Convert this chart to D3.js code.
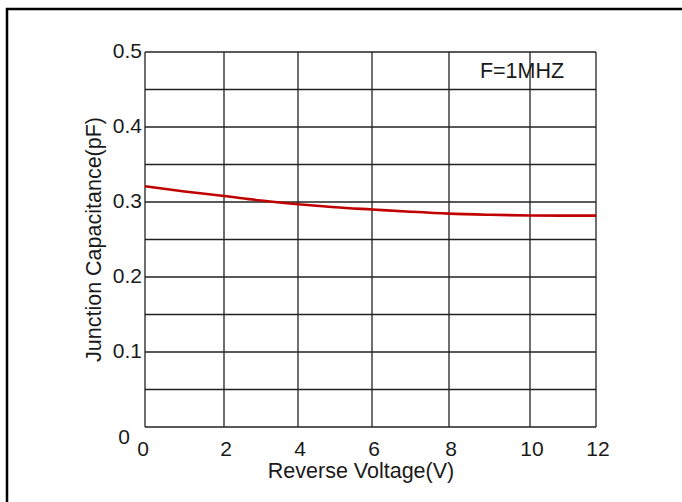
<!DOCTYPE html>
<html>
<head>
<meta charset="utf-8">
<script src="https://cdn.jsdelivr.net/npm/d3@7"></script>
<style>
  body { margin: 0; background: #fff; }
  svg { display: block; font-family: "Liberation Sans", Arial, sans-serif; }
</style>
</head>
<body>
<div id="chart"></div>
<script>
// data
const voltage = [0, 1, 2, 3, 4, 5, 6, 7, 8, 9, 10, 11, 12];
const capacitance = [0.321, 0.314, 0.308, 0.302, 0.297, 0.293, 0.290, 0.287, 0.2845, 0.283, 0.282, 0.2818, 0.2818];
const xTicks = [0, 2, 4, 6, 8, 10, 12];
const yTicks = [0.1, 0.2, 0.3, 0.4, 0.5];
const yGrid = [0, 0.05, 0.1, 0.15, 0.2, 0.25, 0.3, 0.35, 0.4, 0.45, 0.5];

const W = 682, H = 502;
const plot = {left: 145, right: 596, top: 52, bottom: 427};
// the scanned grid is not evenly spaced, so the x scale is piecewise
const xPixels = [145, 224, 298, 372, 449, 530, 596];

const svg = d3.select("#chart").append("svg")
  .attr("width", W).attr("height", H);

svg.append("rect").attr("width", W).attr("height", H).attr("fill", "#fff");

// outer frame (only top and left visible)
svg.append("path")
  .attr("d", `M7,${H} V9 H${W}`)
  .attr("fill", "none").attr("stroke", "#000").attr("stroke-width", 2.5);

const x = d3.scaleLinear().domain(xTicks).range(xPixels);
const y = d3.scaleLinear().domain([0, 0.5]).range([plot.bottom, plot.top]);

const g = svg.append("g");

// grid
g.selectAll(".hgrid").data(yGrid).enter().append("line")
  .attr("x1", plot.left).attr("x2", plot.right)
  .attr("y1", d => y(d)).attr("y2", d => y(d))
  .attr("stroke", "#222").attr("stroke-width", 1.3);

g.selectAll(".vgrid").data(xTicks).enter().append("line")
  .attr("y1", plot.top).attr("y2", plot.bottom)
  .attr("x1", d => x(d)).attr("x2", d => x(d))
  .attr("stroke", "#222").attr("stroke-width", 1.3);

// curve
const line = d3.line()
  .x((d, i) => x(voltage[i]))
  .y(d => y(d))
  .curve(d3.curveMonotoneX);

g.append("path")
  .datum(capacitance)
  .attr("d", line)
  .attr("fill", "none")
  .attr("stroke", "#c00000")
  .attr("stroke-width", 2.6);

// y tick labels
svg.selectAll(".ylab").data(yTicks).enter().append("text")
  .attr("x", plot.left - 3)
  .attr("y", d => y(d))
  .attr("dy", "0.3em")
  .attr("text-anchor", "end")
  .attr("font-size", 21)
  .attr("fill", "#1a1a1a")
  .text(d => d.toFixed(1));

// the lonely 0 of the y axis sits lower left
svg.append("text")
  .attr("x", plot.left - 15).attr("y", y(0) + 10)
  .attr("dy", "0.35em")
  .attr("text-anchor", "end")
  .attr("font-size", 21).attr("fill", "#1a1a1a")
  .text("0");

// x tick labels
svg.selectAll(".xlab").data(xTicks).enter().append("text")
  .attr("x", d => x(d) + (d === 0 ? -2 : 2))
  .attr("y", plot.bottom + 29)
  .attr("text-anchor", "middle")
  .attr("font-size", 21).attr("fill", "#1a1a1a")
  .text(d => d);

// axis titles
svg.append("text")
  .attr("x", 361).attr("y", plot.bottom + 51)
  .attr("text-anchor", "middle")
  .attr("font-size", 21.5).attr("fill", "#1a1a1a")
  .text("Reverse Voltage(V)");

svg.append("text")
  .attr("transform", `translate(101,${(plot.top + plot.bottom) / 2}) rotate(-90)`)
  .attr("text-anchor", "middle")
  .attr("font-size", 21.5).attr("fill", "#1a1a1a")
  .text("Junction Capacitance(pF)");

// annotation
svg.append("text")
  .attr("x", 522).attr("y", 78)
  .attr("text-anchor", "middle")
  .attr("font-size", 21.5).attr("fill", "#1a1a1a")
  .text("F=1MHZ");
</script>
</body>
</html>
